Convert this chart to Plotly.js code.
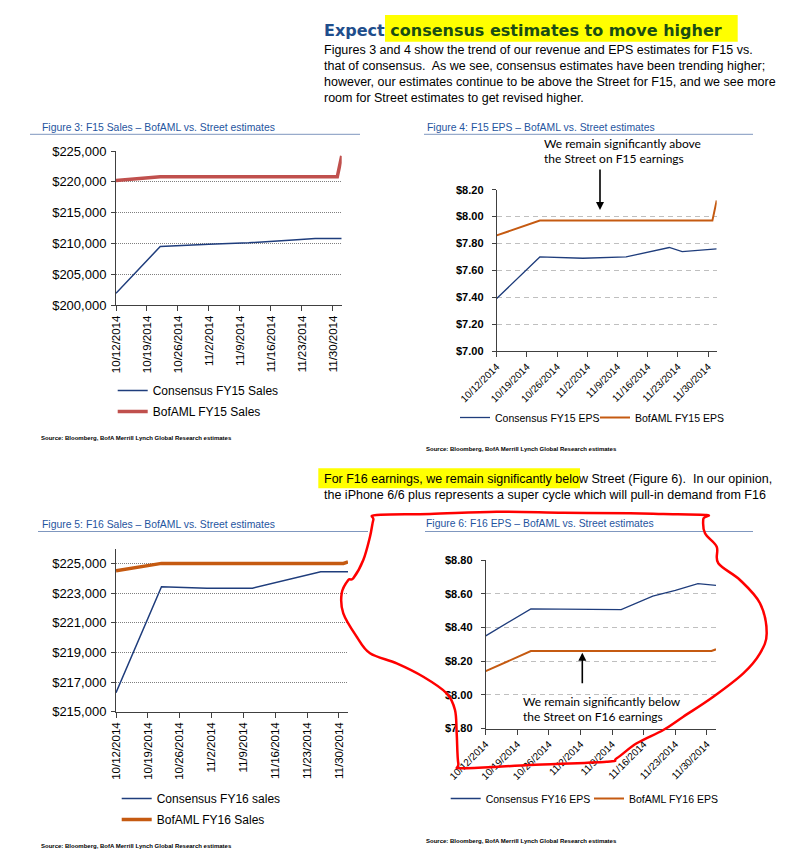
<!DOCTYPE html>
<html><head><meta charset="utf-8">
<script src="https://cdn.plot.ly/plotly-3.0.1.min.js"></script>
<style>html,body{margin:0;padding:0;background:#fff;}#chart{width:789px;height:859px;}</style>
</head><body><div id="chart"></div>
<script>
// ---------------- DATA ----------------
const weekTicks = ['2014-10-12','2014-10-19','2014-10-26','2014-11-02','2014-11-09','2014-11-16','2014-11-23','2014-11-30'];
const weekTickLabels = ['10/12/2014','10/19/2014','10/26/2014','11/2/2014','11/9/2014','11/16/2014','11/23/2014','11/30/2014'];

// Figure 3: F15 Sales
const fig3ConsDates = ['2014-10-12','2014-10-22','2014-11-02','2014-11-11','2014-11-21','2014-11-26','2014-12-02'];
const fig3ConsValues = [201900, 209500, 209850, 210100, 210550, 210800, 210800];
const fig3BofaDates = ['2014-10-12','2014-10-22','2014-12-01','2014-12-02'];
const fig3BofaValues = [220200, 220800, 220800, 224200];
const fig3YTicks = [200000, 205000, 210000, 215000, 220000, 225000];
const fig3YLabels = ['$200,000','$205,000','$210,000','$215,000','$220,000','$225,000'];

// Figure 4: F15 EPS
const fig4ConsDates = ['2014-10-12','2014-10-22','2014-11-01','2014-11-11','2014-11-21','2014-11-24','2014-12-02'];
const fig4ConsValues = [7.39, 7.70, 7.69, 7.70, 7.77, 7.74, 7.76];
const fig4BofaDates = ['2014-10-12','2014-10-22','2014-12-01','2014-12-02'];
const fig4BofaValues = [7.86, 7.97, 7.97, 8.12];
const fig4YTicks = [7.0, 7.2, 7.4, 7.6, 7.8, 8.0, 8.2];
const fig4YLabels = ['$7.00','$7.20','$7.40','$7.60','$7.80','$8.00','$8.20'];

// Figure 5: F16 Sales
const fig5ConsDates = ['2014-10-12','2014-10-22','2014-11-01','2014-11-11','2014-11-26','2014-12-02'];
const fig5ConsValues = [216280, 223430, 223330, 223330, 224440, 224440];
const fig5BofaDates = ['2014-10-12','2014-10-22','2014-12-01','2014-12-02'];
const fig5BofaValues = [224500, 225000, 225000, 225100];
const fig5YTicks = [215000, 217000, 219000, 221000, 223000, 225000];
const fig5YLabels = ['$215,000','$217,000','$219,000','$221,000','$223,000','$225,000'];

// Figure 6: F16 EPS
const fig6ConsDates = ['2014-10-12','2014-10-22','2014-11-11','2014-11-18','2014-11-23','2014-11-28','2014-12-02'];
const fig6ConsValues = [8.35, 8.51, 8.505, 8.585, 8.62, 8.66, 8.65];
const fig6BofaDates = ['2014-10-12','2014-10-22','2014-12-01','2014-12-02'];
const fig6BofaValues = [8.14, 8.26, 8.26, 8.27];
const fig6YTicks = [7.8, 8.0, 8.2, 8.4, 8.6, 8.8];
const fig6YLabels = ['$7.80','$8.00','$8.20','$8.40','$8.60','$8.80'];

// ---------------- LAYOUT HELPERS ----------------
const W = 789, H = 859;
const px = v => v / W;
const py = v => 1 - v / H;
const SANS = 'Liberation Sans, Arial, sans-serif';
const NAVY = '#1f3d7c';
const RED = '#c0504d';
const ORANGE = '#c55a11';
const TITLEBLUE = '#1f55a0';
const X_RANGE = ['2014-10-12', '2014-12-02'];

function xAx(x0, x1, anchor, angle, size) {
  return {type:'date', domain:[px(x0), px(x1)], anchor, range:X_RANGE,
    tickmode:'array', tickvals:weekTicks, ticktext:weekTickLabels, tickangle:angle,
    ticks:'outside', ticklen:5, tickcolor:'#404040', showline:true, linecolor:'#404040', linewidth:1,
    showgrid:false, zeroline:false, fixedrange:true,
    tickfont:{family:SANS, size, color:'#000'}};
}
function yAx(y0, y1, anchor, range, tickvals, ticktext, grid, size, bold, standoff) {
  return {domain:[py(y1), py(y0)], anchor, range, tickmode:'array', tickvals, ticktext,
    ticks:'outside', ticklen:4, tickcolor:'#404040', showline:true, linecolor:'#404040', linewidth:1,
    showgrid:true, gridcolor:grid.color, griddash:grid.dash, gridwidth:1, zeroline:false, fixedrange:true,
    ticklabelstandoff:standoff,
    tickfont:{family:SANS, size, color:'#000', weight: bold ? 'bold' : 'normal'}};
}
function txt(text, x, y, font, extra) {
  return Object.assign({xref:'paper', yref:'paper', x:px(x), y:py(y), xanchor:'left', yanchor:'middle',
    showarrow:false, text, font, borderpad:0}, extra || {});
}
function hline(x0, x1, y, color, width) {
  return {type:'line', xref:'paper', yref:'paper', x0:px(x0), x1:px(x1), y0:py(y), y1:py(y), line:{color, width}};
}
function rect(x0, y0, x1, y1, color) {
  return {type:'rect', xref:'paper', yref:'paper', x0:px(x0), x1:px(x1), y0:py(y1), y1:py(y0),
    fillcolor:color, line:{width:0}, layer:'below'};
}
// smooth closed path (Catmull-Rom -> Bezier) in paper coordinates
function smoothPath(pts) {
  const P = pts.map(p => [px(p[0]), py(p[1])]);
  const n = P.length;
  let d = 'M' + P[0][0] + ',' + P[0][1];
  for (let i = 0; i < n; i++) {
    const p0 = P[(i - 1 + n) % n], p1 = P[i], p2 = P[(i + 1) % n], p3 = P[(i + 2) % n];
    const c1 = [p1[0] + (p2[0] - p0[0]) / 6, p1[1] + (p2[1] - p0[1]) / 6];
    const c2 = [p2[0] - (p3[0] - p1[0]) / 6, p2[1] - (p3[1] - p1[1]) / 6];
    d += ' C' + c1[0] + ',' + c1[1] + ' ' + c2[0] + ',' + c2[1] + ' ' + p2[0] + ',' + p2[1];
  }
  return d;
}
// hand-drawn red loop around Figure 6 (page overlay, pixel coords)
const loopPts = [[376.7,515],[430,514],[496.7,511.7],[563.3,512.7],[630,513.3],[663.3,514],[706.7,515],
  [703.3,519],[705,533.3],[716.7,546.7],[718.3,563.3],[740,580],[760,603.3],[766.7,633.3],[760,653.3],
  [743.3,673.3],[713.3,696.7],[683.3,716.7],[663.3,730],[636.7,743.3],[616.7,758.3],[606.7,761.7],
  [530,765],[463.3,768.3],[458.3,763.3],[456.7,733.3],[455,710],[446.7,693.3],[423.3,676.7],[396.7,663.3],
  [370,653.3],[356.7,636.7],[343.3,613.3],[341.7,593.3],[348.3,580],[353.3,578.3],[363.3,560],[370,536.7],[373.3,520]];

// ---------------- TRACES ----------------
const traces = [
  {type:'scatter', mode:'lines', x:fig3ConsDates, y:fig3ConsValues, name:'Consensus FY15 Sales', xaxis:'x', yaxis:'y', legend:'legend', legendgroup:'a', line:{color:NAVY, width:1.5}},
  {type:'scatter', mode:'lines', x:fig3BofaDates, y:fig3BofaValues, name:'BofAML FY15 Sales', xaxis:'x', yaxis:'y', legend:'legend', legendgroup:'b', line:{color:RED, width:3.5}},
  {type:'scatter', mode:'lines', x:fig4ConsDates, y:fig4ConsValues, name:'Consensus FY15 EPS', xaxis:'x2', yaxis:'y2', legend:'legend2', line:{color:NAVY, width:1.3}},
  {type:'scatter', mode:'lines', x:fig4BofaDates, y:fig4BofaValues, name:'BofAML FY15 EPS', xaxis:'x2', yaxis:'y2', legend:'legend5', line:{color:ORANGE, width:2}},
  {type:'scatter', mode:'lines', x:fig5ConsDates, y:fig5ConsValues, name:'Consensus FY16 sales', xaxis:'x3', yaxis:'y3', legend:'legend3', legendgroup:'c', line:{color:NAVY, width:1.5}},
  {type:'scatter', mode:'lines', x:fig5BofaDates, y:fig5BofaValues, name:'BofAML FY16 Sales', xaxis:'x3', yaxis:'y3', legend:'legend3', legendgroup:'d', line:{color:ORANGE, width:3.5}},
  {type:'scatter', mode:'lines', x:fig6ConsDates, y:fig6ConsValues, name:'Consensus FY16 EPS', xaxis:'x4', yaxis:'y4', legend:'legend4', line:{color:NAVY, width:1.3}},
  {type:'scatter', mode:'lines', x:fig6BofaDates, y:fig6BofaValues, name:'BofAML FY16 EPS', xaxis:'x4', yaxis:'y4', legend:'legend6', line:{color:ORANGE, width:2}}
];

const dotGrid = {color:'#7f7f7f', dash:'1px,1px'};
const dashGrid = {color:'#bfbfbf', dash:'5px,4px'};
const legFont = {family:SANS, size:12, color:'#000'};
const legFontSm = {family:SANS, size:10.5, color:'#000'};
const legBase = {bgcolor:'rgba(0,0,0,0)', borderwidth:0, font:legFont, xanchor:'left', yanchor:'top', itemwidth:30};

const bodyFont = {family:SANS, size:12.5, color:'#000'};
const titleFont = {family:SANS, size:10.4, color:TITLEBLUE};
const srcFont = {family:SANS, size:6, color:'#000', weight:'bold'};
const noteFont = {family:'Lato, Open Sans, sans-serif', size:12, color:'#000'};
const NB = '\u00a0';

const layout = {
  width:W, height:H, margin:{l:0, r:0, t:0, b:0}, paper_bgcolor:'#fff', plot_bgcolor:'rgba(0,0,0,0)',
  hovermode:false, showlegend:true,
  xaxis: xAx(116, 341.7, 'y', -90, 11.5),
  yaxis: yAx(151, 305, 'x', [200000, 225000], fig3YTicks, fig3YLabels, dotGrid, 13, false, 2),
  xaxis2: xAx(496.7, 716.7, 'y2', -45, 10),
  yaxis2: yAx(189.7, 351, 'x2', [7.0, 8.2], fig4YTicks, fig4YLabels, dashGrid, 11, true, 6),
  xaxis3: xAx(116, 348, 'y3', -90, 11.5),
  yaxis3: yAx(549.3, 711.7, 'x3', [215000, 225950], fig5YTicks, fig5YLabels, dotGrid, 13, false, 2),
  xaxis4: xAx(485.7, 716, 'y4', -45, 10),
  yaxis4: yAx(560, 728.5, 'x4', [7.8, 8.8], fig6YTicks, fig6YLabels, dashGrid, 11, true, 6),
  legend: Object.assign({}, legBase, {x:px(112.7), y:py(376), orientation:'v', traceorder:'grouped', tracegroupgap:2}),
  legend2: Object.assign({}, legBase, {x:px(455), y:py(403), font:legFontSm}),
  legend5: Object.assign({}, legBase, {x:px(595), y:py(403), font:legFontSm}),
  legend3: Object.assign({}, legBase, {x:px(116.7), y:py(784), orientation:'v', traceorder:'grouped', tracegroupgap:2}),
  legend4: Object.assign({}, legBase, {x:px(445.7), y:py(784), font:legFontSm}),
  legend6: Object.assign({}, legBase, {x:px(589), y:py(784), font:legFontSm}),
  shapes: [
    rect(385, 15, 737.7, 41.7, '#ffff00'),
    rect(318.3, 468.3, 580, 488.3, '#ffff00'),
    hline(30, 360, 134.3, '#7f97bf', 1),
    hline(424, 753, 134.3, '#7f97bf', 1),
    hline(38, 368, 531.5, '#7f97bf', 1),
    hline(425, 753, 531.5, '#7f97bf', 1),
    {type:'path', xref:'paper', yref:'paper', path:smoothPath(loopPts), line:{color:'#ff0000', width:2.5}, fillcolor:'rgba(0,0,0,0)', layer:'above'}
  ],
  annotations: [
    txt('<span style="color:#1f4e8c">Expect</span> <span style="color:#1a4d14">consensus estimates to move higher</span>', 322.7, 30,
        {family:'DejaVu Sans, sans-serif', size:16, weight:'bold', color:'#1f4e8c'}),
    txt('Figures 3 and 4 show the trend of our revenue and EPS estimates for F15 vs.', 322.7, 50, bodyFont),
    txt('that of consensus.' + NB + ' As we see, consensus estimates have been trending higher;', 322.7, 65.7, bodyFont),
    txt('however, our estimates continue to be above the Street for F15, and we see more', 322.7, 81.7, bodyFont),
    txt('room for Street estimates to get revised higher.', 322.7, 98.3, bodyFont),
    txt('For F16 earnings, we remain significantly below Street (Figure 6).' + NB + ' In our opinion,', 322.7, 479.3, bodyFont),
    txt('the iPhone 6/6 plus represents a super cycle which will pull-in demand from F16', 322.7, 495, bodyFont),
    txt('Figure 3: F15 Sales \u2013 BofAML vs. Street estimates', 41, 127.3, titleFont),
    txt('Figure 4: F15 EPS \u2013 BofAML vs. Street estimates', 425.7, 127.3, titleFont),
    txt('Figure 5: F16 Sales \u2013 BofAML vs. Street estimates', 41, 524.3, titleFont),
    txt('Figure 6: F16 EPS \u2013 BofAML vs. Street estimates', 425, 523.3, titleFont),
    txt('Source: Bloomberg, BofA Merrill Lynch Global Research estimates', 40, 438.3, srcFont),
    txt('Source: Bloomberg, BofA Merrill Lynch Global Research estimates', 425, 449.3, srcFont),
    txt('Source: Bloomberg, BofA Merrill Lynch Global Research estimates', 40, 845.7, srcFont),
    txt('Source: Bloomberg, BofA Merrill Lynch Global Research estimates', 425, 840.7, srcFont),
    txt('We remain significantly above', 543.3, 143.3, noteFont),
    txt('the Street on F15 earnings', 543.3, 159, noteFont),
    txt('We remain significantly below', 521.7, 701, noteFont),
    txt('the Street on F16 earnings', 521.7, 716.7, noteFont),
    {xref:'paper', yref:'paper', x:px(600), y:py(210), ax:0, ay:-42, text:'', showarrow:true, arrowhead:2, arrowsize:1, arrowwidth:1.6, arrowcolor:'#000'},
    {xref:'paper', yref:'paper', x:px(582.3), y:py(652.7), ax:0, ay:32, text:'', showarrow:true, arrowhead:2, arrowsize:1, arrowwidth:1.6, arrowcolor:'#000'}
  ]
};

Plotly.newPlot('chart', traces, layout, {staticPlot:true, displayModeBar:false});
</script></body></html>
